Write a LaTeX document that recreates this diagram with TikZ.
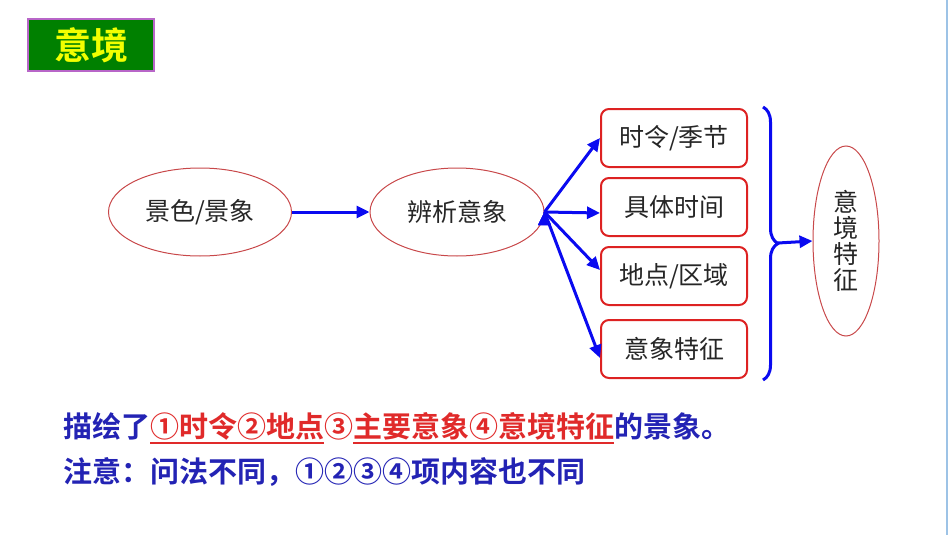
\documentclass[tikz,border=0pt]{standalone}
\usepackage{xcolor}
\usepackage{fontspec}
\setmainfont{Noto Sans CJK SC}[BoldFont={Noto Sans CJK SC Bold}]
\usepackage{tikz}
\usetikzlibrary{arrows.meta}
\usetikzlibrary{shapes.geometric, decorations.pathreplacing}
\definecolor{titlegreen}{HTML}{008000}
\definecolor{titleyellow}{HTML}{F2FF00}
\definecolor{titleframe}{HTML}{B866C8}
\definecolor{ovalred}{HTML}{C8484A}
\definecolor{boxred}{HTML}{DD2222}
\definecolor{arrowblue}{HTML}{0A0AF0}
\definecolor{textblue}{HTML}{2323B4}
\definecolor{textred}{HTML}{E02A2A}
\definecolor{sideblue}{HTML}{9DC3E6}
\newsavebox{\underbox}
\newcommand{\redunder}[1]{\sbox{\underbox}{#1}\rlap{\rule[-6pt]{\wd\underbox}{1.4pt}}\usebox{\underbox}}
\tikzset{
title box/.style = { rectangle, draw = titleframe, fill = titlegreen, line width = 1.5pt, minimum width = 126pt, minimum height = 52pt, text = titleyellow, font = \bfseries\fontsize{37pt}{40pt}\selectfont },
oval/.style = { ellipse, draw = ovalred, line width = 1pt, inner sep = 0pt, text = black!85, font = \fontsize{25pt}{26pt}\selectfont },
item box/.style = { rectangle, draw = boxred, line width = 2pt, rounded corners = 8pt, minimum width = 146pt, minimum height = 58pt, text = black!85, font = \fontsize{25pt}{30pt}\selectfont },
blue arrow/.style = { draw = arrowblue, line width = 3pt, -{Triangle[length=13pt, width=12pt]} },
note/.style = { anchor = west, inner sep = 0pt, text = textblue, font = \bfseries\fontsize{29pt}{32pt}\selectfont },
}

\begin{document}
\begin{tikzpicture}[x=1pt, y=-1pt]
      \useasboundingbox (0,0) rectangle (950,535);
      \draw[sideblue, line width = 2pt] (947,0) -- (947,535);
      \node[title box] (biaoti) at (91,45) {意境};
      \begin{scope}
        \node[oval, minimum width = 183pt, minimum height = 88pt] (jingse) at (200,212) {景色/景象};
        \node[oval, minimum width = 174pt, minimum height = 88pt] (bianxi) at (457,212) {辨析意象};
        \node[oval, minimum width = 66pt, minimum height = 190pt, align = center] (tezheng) at (846,241) {意\\境\\特\\征};
        \node[item box] (shiling) at (674,138) {时令/季节};
        \node[item box] (shijian) at (674,207) {具体时间};
        \node[item box] (didian) at (674,276) {地点/区域};
        \node[item box] (yixiang) at (674,349) {意象特征};
      \end{scope}
      \begin{scope}[every path/.style={blue arrow}]
        \path (jingse) edge (bianxi);
        \path (bianxi.east) edge (shiling.west);
        \path (bianxi.east) edge ([yshift=-6pt]shijian.west);
        \path (bianxi.east) edge ([yshift=6pt]didian.west);
        \path (bianxi.east) edge ([yshift=-9pt]yixiang.west);
      \end{scope}
      \draw[arrowblue, line width = 3pt, decorate, decoration = {brace, amplitude = 15pt}] (763,107) -- (763,380);
      \coordinate (bracetip) at (778,243);
      \draw[blue arrow] (bracetip) -- (tezheng.west);
      \node[note] (miaohui) at (63,428) {描绘了\textcolor{textred}{\redunder{①时令②地点}③\redunder{主要意象④意境特征}}的景象。};
      \node[note] (zhuyi) at (63,472) {注意：问法不同，①②③④项内容也不同};
    \end{tikzpicture}
\end{document}
